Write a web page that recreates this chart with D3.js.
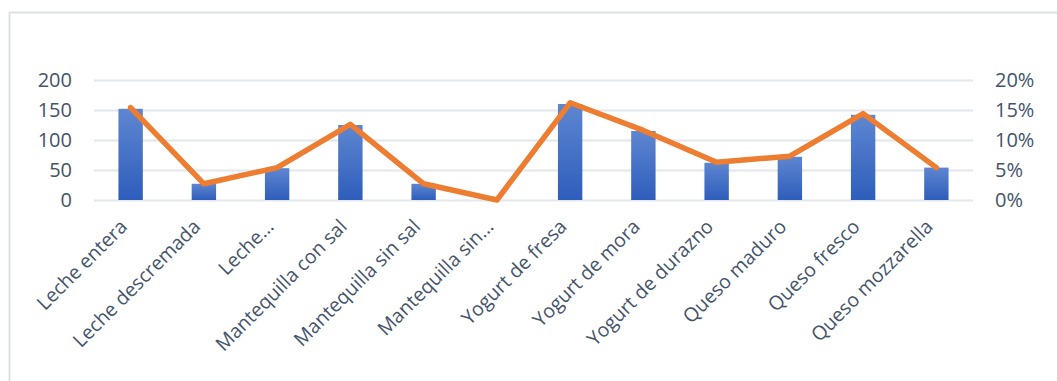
<!DOCTYPE html>
<html>
<head>
<meta charset="utf-8">
<script src="https://cdn.jsdelivr.net/npm/d3@7"></script>
<style>
  html, body { margin: 0; padding: 0; background: #fff; }
  svg { display: block; }
  text { font-family: "Open Sans", sans-serif; }
</style>
</head>
<body>
<svg id="chart" width="1057" height="381"></svg>
<script>
// Dairy products: units (bars, left axis) and share of total (line, right axis)
const categories = [
  "Leche entera", "Leche descremada", "Leche…", "Mantequilla con sal",
  "Mantequilla sin sal", "Mantequilla sin…", "Yogurt de fresa", "Yogurt de mora",
  "Yogurt de durazno", "Queso maduro", "Queso fresco", "Queso mozzarella"
];
const units = [152, 27, 53, 125, 27, 0, 160, 115, 62, 72, 142, 54];
const sharePct = [15.4, 2.7, 5.4, 12.6, 2.7, 0, 16.2, 11.6, 6.3, 7.3, 14.4, 5.4];
const leftTicks = [0, 50, 100, 150, 200];
const rightTicks = [0, 5, 10, 15, 20];

const svg = d3.select("#chart");
const plot = { left: 94, right: 973, top: 80, bottom: 200 };
const textColor = "#44546A";

// Chart area frame (top and left edges visible)
svg.append("path")
  .attr("d", "M9.5,381 V12.5 H1057")
  .attr("fill", "none")
  .attr("stroke", "#DDE1E6")
  .attr("stroke-width", 2);

// Caption above the chart, mostly clipped by the top edge
svg.append("text")
  .attr("x", 207).attr("y", -9)
  .attr("font-family", "Liberation Serif, serif")
  .attr("font-style", "italic")
  .attr("font-weight", "bold")
  .attr("font-size", 20)
  .attr("fill", "#000")
  .text("p");

const x = d3.scaleBand().domain(categories).range([plot.left, plot.right]).paddingInner(0).paddingOuter(0);
const yL = d3.scaleLinear().domain([0, 200]).range([plot.bottom, plot.top]);
const yR = d3.scaleLinear().domain([0, 20]).range([plot.bottom, plot.top]);

// Gridlines
svg.append("g")
  .attr("transform", `translate(${plot.left},0)`)
  .call(d3.axisLeft(yL).tickValues(leftTicks).tickSize(-(plot.right - plot.left)).tickFormat(""))
  .call(g => g.select(".domain").remove())
  .call(g => g.selectAll("line").attr("stroke", "#E3E6EA").attr("stroke-width", 2));

// Bar gradient
const defs = svg.append("defs");
const grad = defs.append("linearGradient")
  .attr("id", "barGrad").attr("x1", 0).attr("y1", 0).attr("x2", 0).attr("y2", 1);
grad.append("stop").attr("offset", "0%").attr("stop-color", "#5E86D1");
grad.append("stop").attr("offset", "100%").attr("stop-color", "#2E5DBB");

const barW = x.bandwidth() * 0.333;
svg.append("g").selectAll("rect")
  .data(units)
  .join("rect")
  .attr("x", (d, i) => x(categories[i]) + x.bandwidth() / 2 - barW / 2)
  .attr("width", barW)
  .attr("y", d => yL(d))
  .attr("height", d => yL(0) - yL(d))
  .attr("fill", "url(#barGrad)");

// Share line
const line = d3.line()
  .x((d, i) => x(categories[i]) + x.bandwidth() / 2)
  .y(d => yR(d));
svg.append("path")
  .datum(sharePct)
  .attr("d", line)
  .attr("fill", "none")
  .attr("stroke", "#ED7D31")
  .attr("stroke-width", 5.5)
  .attr("stroke-linejoin", "round")
  .attr("stroke-linecap", "round");

// Left axis labels
svg.append("g")
  .attr("transform", `translate(72,0)`)
  .call(d3.axisLeft(yL).tickValues(leftTicks).tickSize(0).tickPadding(0))
  .call(g => g.select(".domain").remove())
  .call(g => g.selectAll("text")
    .attr("fill", textColor).attr("font-size", 20)
    .attr("font-family", "Open Sans, sans-serif"));

// Right axis labels
svg.append("g")
  .attr("transform", `translate(995,0)`)
  .call(d3.axisRight(yR).tickValues(rightTicks).tickSize(0).tickPadding(0).tickFormat(d => d + "%"))
  .call(g => g.select(".domain").remove())
  .call(g => g.selectAll("text")
    .attr("fill", textColor).attr("font-size", 20)
    .attr("font-family", "Open Sans, sans-serif"));

// Category labels, rotated
svg.append("g").selectAll("text")
  .data(categories)
  .join("text")
  .attr("transform", d => `translate(${x(d) + x.bandwidth() / 2 - 7},${plot.bottom + 23}) rotate(-45)`)
  .attr("text-anchor", "end")
  .attr("dy", "0.35em")
  .attr("fill", textColor)
  .attr("font-size", 19.5)
  .text(d => d);
</script>
</body>
</html>
